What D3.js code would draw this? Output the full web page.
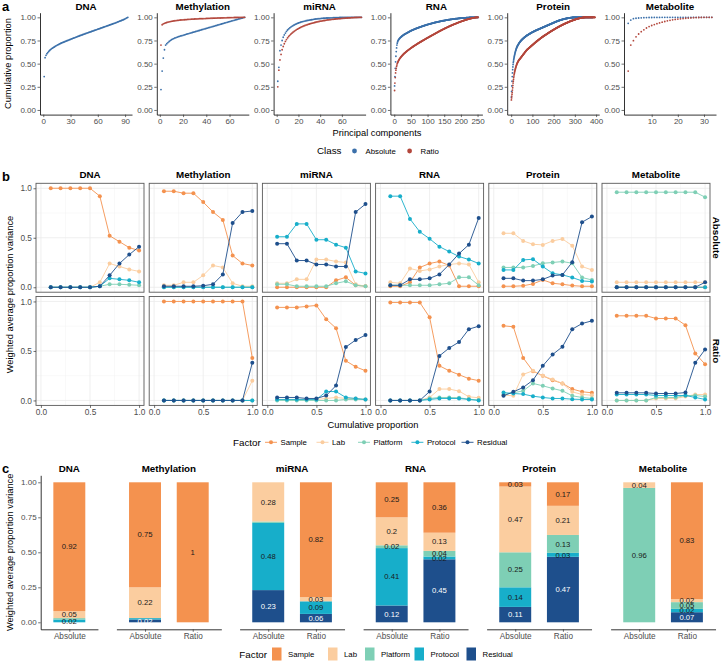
<!DOCTYPE html>
<html><head><meta charset="utf-8">
<script src="https://cdn.jsdelivr.net/npm/d3@7"></script>
<style>body{margin:0;background:#fff}</style>
</head><body><script>
// ---------- Panel a: cumulative proportion per principal component ----------
const omics=["DNA","Methylation","miRNA","RNA","Protein","Metabolite"];
const classes=["Absolute","Ratio"];
const dnaAbs=[.360,.565,.590,.607,.620,.632,.643,.652,.660,.667,.674,.680,.686,.692,.698,.703,.708,.713,.718,.723,.727,.731,.735,.739,.743,.747,.751,.755,.759,.763,.767,.771,.775,.779,.782,.786,.790,.794,.797,.801,.805,.808,.812,.816,.819,.823,.826,.830,.833,.837,.840,.844,.847,.851,.854,.858,.861,.865,.868,.872,.875,.879,.882,.886,.889,.893,.896,.900,.903,.907,.910,.914,.917,.921,.924,.928,.931,.935,.938,.942,.946,.950,.954,.958,.962,.966,.970,.974,.979,.984,.989,.995,1];
const methAbs=[.220,.420,.560,.650,.700,.715,.728,.739,.749,.758,.765,.771,.777,.782,.787,.791,.795,.799,.802,.806,.810,.814,.818,.822,.825,.829,.833,.836,.840,.844,.847,.851,.855,.858,.862,.866,.869,.873,.877,.880,.884,.888,.891,.895,.899,.902,.906,.910,.913,.917,.921,.924,.928,.932,.935,.939,.943,.946,.950,.954,.957,.961,.965,.968,.972,.975,.979,.983,.986,.990,.993,.997,1];
const methRat=[.700,.920,.930,.935,.940,.944,.948,.951,.954,.957,.959,.961,.963,.965,.967,.968,.970,.971,.972,.973,.974,.975,.976,.977,.978,.979,.980,.981,.981,.982,.983,.983,.984,.985,.985,.986,.986,.987,.987,.988,.988,.989,.989,.990,.990,.991,.991,.992,.992,.993,.993,.993,.994,.994,.995,.995,.995,.996,.996,.996,.997,.997,.997,.998,.998,.998,.999,.999,.999,.999,1,1,1];
const mirnaAbs=[.310,.460,.640,.700,.750,.785,.810,.830,.848,.863,.875,.886,.895,.903,.910,.917,.923,.929,.934,.939,.943,.947,.951,.954,.957,.960,.963,.966,.968,.970,.972,.974,.976,.978,.980,.982,.983,.985,.986,.987,.988,.989,.990,.991,.992,.993,.993,.994,.994,.995,.995,.996,.996,.996,.997,.997,.997,.998,.998,.998,.998,.999,.999,.999,.999,.999,.999,1,1,1,1,1,1,1,1,1,1,1];
const mirnaRat=[.250,.430,.540,.600,.650,.685,.715,.740,.760,.778,.793,.806,.818,.829,.839,.848,.857,.865,.872,.879,.885,.891,.897,.902,.907,.912,.916,.920,.924,.928,.932,.935,.938,.941,.944,.947,.950,.953,.955,.958,.960,.962,.964,.966,.968,.970,.972,.973,.975,.976,.978,.979,.980,.982,.983,.984,.985,.986,.987,.988,.989,.990,.991,.992,.993,.994,.994,.995,.996,.996,.997,.998,.998,.999,.999,1,1,1];
const rnaAbs=[.26,.36,.45,.52,.58,.63,.67,.70,.72,.735,.745,.752,.758,.763,.768,.772,.776,.780,.784,.787,
.790,.793,.796,.799,.802,.805,.807,.810,.812,.815,
.817,.819,.821,.823,.825,.827,.829,.831,.833,.835,.837,.839,.841,.843,.845,.847,.849,.851,.853,.855,
.857,.858,.860,.862,.863,.865,.866,.868,.869,.871,.872,.874,.875,.877,.878,.880,.881,.882,.884,.885,
.886,.888,.889,.890,.892,.893,.894,.896,.897,.898,.899,.901,.902,.903,.904,.906,.907,.908,.909,.910,
.912,.913,.914,.915,.916,.917,.918,.920,.921,.922,.923,.924,.925,.926,.927,.928,.929,.930,.931,.932,
.933,.934,.935,.936,.937,.938,.939,.940,.941,.942,.943,.944,.944,.945,.946,.947,.948,.949,.950,.950,
.951,.952,.953,.954,.954,.955,.956,.957,.957,.958,.959,.960,.960,.961,.962,.963,.963,.964,.965,.965,
.966,.967,.967,.968,.969,.969,.970,.971,.971,.972,.972,.973,.974,.974,.975,.975,.976,.977,.977,.978,
.978,.979,.979,.980,.980,.981,.981,.982,.982,.983,.983,.984,.984,.985,.985,.986,.986,.986,.987,.987,
.988,.988,.988,.989,.989,.990,.990,.990,.991,.991,.991,.992,.992,.992,.993,.993,.993,.994,.994,.994,
.994,.995,.995,.995,.995,.996,.996,.996,.996,.997,.997,.997,.997,.997,.998,.998,.998,.998,.998,.998,
.999,.999,.999,.999,.999,.999,.999,.999,1,1,1,1,1,1,1,1,1,1,1,1,1,1];
const rnaRat=[.21,.29,.35,.40,.43,.45,.47,.485,.50,.51,
.518,.526,.533,.540,.546,.552,.557,.562,.567,.572,.576,.580,.584,.588,.592,.596,.600,.603,.607,.610,
.613,.617,.620,.623,.626,.629,.632,.635,.638,.641,.644,.646,.649,.652,.655,.657,.660,.663,.665,.668,
.670,.673,.675,.678,.680,.683,.685,.688,.690,.692,.695,.697,.699,.702,.704,.706,.709,.711,.713,.715,
.718,.720,.722,.724,.726,.729,.731,.733,.735,.737,.739,.742,.744,.746,.748,.750,.752,.754,.756,.758,
.760,.763,.765,.767,.769,.771,.773,.775,.777,.779,.781,.783,.785,.787,.789,.791,.793,.795,.797,.799,
.801,.803,.805,.807,.809,.811,.813,.815,.817,.819,.821,.823,.825,.827,.829,.831,.833,.835,.837,.839,
.841,.843,.845,.847,.849,.851,.853,.855,.857,.858,.860,.862,.864,.866,.868,.870,.871,.873,.875,.877,
.879,.880,.882,.884,.886,.887,.889,.891,.892,.894,.896,.897,.899,.901,.902,.904,.906,.907,.909,.910,
.912,.914,.915,.917,.918,.920,.921,.923,.924,.926,.927,.929,.930,.932,.933,.935,.936,.938,.939,.941,
.942,.943,.945,.946,.948,.949,.950,.952,.953,.954,.956,.957,.958,.960,.961,.962,.963,.965,.966,.967,
.968,.969,.971,.972,.973,.974,.975,.976,.977,.978,.979,.980,.981,.982,.983,.984,.985,.986,.987,.988,
.989,.990,.990,.991,.992,.993,.994,.994,.995,.996,.996,.997,.997,.998,.998,.999,.999,.999,1,1,1,1];
const protAbs=[.140,.200,.260,.310,.360,.400,.435,.465,.490,.510,.527,.542,.556,.569,.581,.592,.602,.612,.621,.630,
.638,.646,.653,.660,.666,.672,.678,.683,.688,.693,.697,.701,.705,.709,.713,.717,.720,.724,.727,.730,
.733,.736,.739,.742,.745,.748,.750,.753,.755,.758,.760,.762,.765,.767,.769,.771,.773,.775,.777,.779,
.781,.783,.785,.787,.789,.790,.792,.794,.796,.797,.799,.801,.802,.804,.805,.807,.808,.810,.811,.813,
.814,.816,.817,.819,.820,.821,.823,.824,.825,.827,.828,.829,.831,.832,.833,.835,.836,.837,.838,.840,
.841,.842,.843,.844,.846,.847,.848,.849,.850,.851,.852,.853,.855,.856,.857,.858,.859,.860,.861,.862,
.863,.864,.865,.866,.867,.868,.869,.870,.871,.872,.873,.874,.875,.876,.877,.878,.879,.880,.881,.882,
.883,.884,.885,.886,.887,.888,.889,.890,.891,.892,.893,.894,.895,.896,.897,.898,.899,.900,.901,.902,
.903,.904,.905,.906,.907,.908,.909,.910,.911,.912,.913,.914,.915,.916,.917,.918,.919,.920,.921,.922,
.923,.924,.925,.926,.927,.928,.929,.930,.931,.932,.933,.934,.935,.936,.937,.938,.939,.940,.941,.942,
.943,.944,.945,.946,.947,.948,.949,.950,.951,.952,.953,.954,.955,.956,.956,.957,.958,.959,.960,.961,
.962,.963,.963,.964,.965,.966,.967,.967,.968,.969,.970,.970,.971,.972,.973,.973,.974,.975,.975,.976,
.977,.977,.978,.979,.979,.980,.981,.981,.982,.982,.983,.984,.984,.985,.985,.986,.986,.987,.987,.988,
.988,.989,.989,.990,.990,.990,.991,.991,.992,.992,.992,.993,.993,.994,.994,.994,.995,.995,.995,.996,
.996,.996,.996,.997,.997,.997,.997,.998,.998,.998,.998,.998,.999,.999,.999,.999,.999,.999,.999,1,
1,1,1,1,1,1,1,1,1,1,1,1,1,1,1,1,1,1,1,1,1,1,1,1,1,1,1,1,1,1,1,1,1,1,1,1,1,1,1,1,
1,1,1,1,1,1,1,1,1,1,1,1,1,1,1,1,1,1,1,1,1,1,1,1,1,1,1,1,1,1,1,1,1,1,1,1,1,1,1,1,
1,1,1,1,1];
const protRat=[.108,.130,.150,.170,.190,.215,.240,.265,.290,.310,.330,.350,.366,.381,.395,.407,.418,.428,.437,.446,
.454,.462,.470,.477,.484,.490,.496,.502,.507,.512,.517,.521,.525,.529,.533,.537,.540,.543,.546,.549,
.551,.554,.557,.560,.563,.566,.569,.572,.575,.578,.581,.584,.587,.590,.593,.596,.599,.602,.605,.608,
.611,.614,.617,.620,.623,.626,.629,.632,.635,.638,.641,.644,.647,.649,.651,.653,.655,.657,.659,.661,
.663,.665,.667,.669,.671,.673,.675,.677,.679,.681,.683,.685,.687,.689,.691,.693,.695,.697,.699,.701,
.703,.705,.707,.709,.711,.713,.715,.717,.719,.721,.723,.725,.727,.729,.731,.733,.735,.737,.739,.740,
.742,.744,.746,.748,.750,.751,.753,.755,.757,.759,.760,.762,.764,.766,.768,.769,.771,.773,.775,.776,
.778,.780,.781,.783,.785,.786,.788,.790,.791,.793,.794,.796,.798,.799,.801,.802,.804,.805,.807,.808,
.810,.811,.813,.814,.816,.817,.819,.820,.822,.823,.825,.826,.828,.829,.831,.832,.834,.835,.837,.838,
.840,.841,.843,.844,.846,.847,.849,.850,.851,.853,.854,.856,.857,.858,.860,.861,.863,.864,.865,.867,
.868,.869,.871,.872,.873,.875,.876,.877,.879,.880,.881,.883,.884,.885,.887,.888,.889,.891,.892,.893,
.894,.896,.897,.898,.899,.901,.902,.903,.904,.905,.907,.908,.909,.910,.911,.913,.914,.915,.916,.917,
.918,.920,.921,.922,.923,.924,.925,.926,.928,.929,.930,.931,.932,.933,.934,.935,.936,.937,.938,.939,
.940,.941,.942,.943,.944,.945,.946,.947,.948,.949,.950,.951,.952,.953,.954,.955,.956,.957,.958,.959,
.960,.961,.961,.962,.963,.964,.965,.966,.967,.967,.968,.969,.970,.971,.971,.972,.973,.974,.975,.975,
.976,.977,.978,.978,.979,.980,.981,.981,.982,.983,.983,.984,.985,.985,.986,.987,.987,.988,.989,.989,
.990,.990,.991,.991,.992,.992,.993,.993,.994,.994,.995,.995,.996,.996,.996,.997,.997,.997,.998,.998,
.998,.999,.999,.999,.999,.999,1,1,1,1,1,1,1,1,1,1,1,1,1,1,1,1,1,1,1,1,1,1,1,1,
1,1,1,1,1,1,1,1,1,1,1,1,1,1,1,1,1,1,1,1,1,1,1,1,1];
const metaAbs=[.935,.970,.985,.990,.993,.995,.996,.997,.998,.998,.999,.999,.999,1,1,1,1,1,1,1,1,1,1,1,1,1,1,1,1,1,1,1,1];
const metaRat=[.42,.70,.748,.79,.82,.845,.865,.885,.90,.912,.922,.931,.94,.948,.955,.962,.968,.973,.977,.981,.984,.987,.99,.992,.994,.996,.997,.998,.999,1,1,1,1];
const aXTicks=[[0,30,60,90],[0,20,40,60],[0,20,40,60],[0,50,100,150,200,250],[0,100,200,300,400],[10,20,30]];
const aYTicks=[0,0.25,0.5,0.75,1];

// ---------- Panel b: weighted average proportion variance vs cumulative proportion ----------
const factors=["Sample","Lab","Platform","Protocol","Residual"];
const bX=[0.1,0.2,0.3,0.4,0.5,0.6,0.7,0.8,0.9,1.0];
const bTicks=[0,0.5,1];
// rows: Sample, Lab, Platform, Protocol, Residual
const bDNAAbs=[[1,1,1,1,1,.92,.52,.46,.40,.37],[0,0,0,0,0,.05,.24,.21,.18,.16],[0,0,0,0,0,.01,.03,.03,.025,.02],[0,0,0,0,0,.01,.09,.08,.07,.05],[0,0,0,0,0,.01,.12,.24,.33,.41]];
const bDNARat=[[],[],[],[],[]];
const bMethAbs=[[.97,.97,.95,.95,.86,.76,.68,.32,.24,.22],[.02,.02,.05,.05,.12,.22,.20,.04,.01,.01],[0,0,0,0,0,0,0,0,0,0],[0,0,0,0,0,0,0,0,0,0],[.01,.01,.01,.01,.015,.03,.13,.65,.76,.77]];
const bMethRat=[[1,1,1,1,1,1,1,1,1,.43],[0,0,0,0,0,0,0,0,0,.2],[0,0,0,0,0,0,0,0,0,0],[0,0,0,0,0,0,0,0,0,0],[0,0,0,0,0,0,0,0,0,.38]];
const bMirnaAbs=[[0,0,0,0,0,0,.07,.10,.02,.01],[.04,.04,.08,.08,.28,.28,.26,.25,.03,.01],[.03,.03,.01,.01,.01,.01,.04,.06,.02,.01],[.51,.51,.64,.64,.48,.48,.43,.40,.16,.14],[.44,.44,.27,.27,.23,.23,.21,.21,.76,.84]];
const bMirnaRat=[[.94,.94,.94,.95,.96,.82,.73,.40,.34,.30],[.01,.01,.01,.01,.01,.02,.03,.02,.02,.01],[0,0,0,0,0,0,0,.01,.01,.01],[.01,.01,.01,.01,.01,.09,.09,.03,.02,.01],[.03,.03,.03,.02,.02,.05,.15,.54,.61,.66]];
const bRnaAbs=[[.01,.01,.05,.20,.24,.26,.22,.01,.01,.01],[.05,.04,.19,.165,.18,.21,.23,.24,.23,.05],[.02,.02,.02,.02,.02,.03,.04,.10,.10,.02],[.92,.92,.69,.56,.49,.41,.36,.31,.28,.24],[.02,.02,.08,.08,.09,.13,.23,.34,.43,.70]];
const bRnaRat=[[.99,.99,.99,.99,.84,.35,.30,.26,.22,.20],[0,0,0,0,.03,.115,.115,.094,.037,.027],[0,0,0,0,.02,.03,.03,.027,.013,.005],[0,0,0,0,.01,.02,.02,.02,.01,0],[0,0,0,0,.09,.45,.53,.59,.72,.75]];
const bProtAbs=[[.01,.01,.015,.034,.074,.04,.03,.017,.01,.01],[.545,.545,.468,.434,.428,.468,.488,.42,.209,.175],[.20,.20,.20,.215,.242,.25,.26,.242,.098,.074],[.175,.175,.276,.283,.209,.141,.125,.098,.064,.057],[.09,.09,.067,.067,.08,.118,.125,.253,.657,.714]];
const bProtRat=[[.754,.744,.43,.296,.249,.205,.172,.115,.088,.077],[.053,.047,.263,.30,.249,.212,.172,.087,.06,.053],[.06,.077,.097,.172,.148,.121,.097,.047,.03,.02],[.08,.07,.064,.043,.03,.02,.02,.013,.01,.01],[.047,.087,.131,.205,.35,.464,.542,.72,.777,.804]];
const bMetaAbs=[[0,0,0,0,0,0,0,0,0,0],[.05,.05,.05,.05,.05,.05,.05,.05,.05,.05],[.96,.96,.96,.96,.96,.96,.96,.96,.96,.91],[0,0,0,0,0,0,0,0,0,0],[0,0,0,0,0,0,0,0,0,.05]];
const bMetaRat=[[.855,.855,.855,.855,.828,.828,.828,.76,.474,.366],[0,0,0,0,.02,.02,.02,.04,.06,.06],[0,0,0,0,.03,.03,.03,.05,.05,.04],[.06,.06,.06,.06,.05,.05,.05,.05,.03,.01],[.077,.077,.077,.077,.07,.07,.07,.08,.38,.515]];

// ---------- Panel c: stacked bars (Sample, Lab, Platform, Protocol, Residual) ----------
const cClasses=[["Absolute"],["Absolute","Ratio"],["Absolute","Ratio"],["Absolute","Ratio"],["Absolute","Ratio"],["Absolute","Ratio"]];
const cDNA=[[.92,.05,.01,.02,0]];
const cMeth=[[.75,.22,0,.01,.02],[1,0,0,0,0]];
const cMirna=[[0,.28,.01,.48,.23],[.82,.03,0,.09,.06]];
const cRna=[[.25,.2,.02,.41,.12],[.36,.13,.04,.02,.45]];
const cProt=[[.03,.47,.25,.14,.11],[.168,.208,.128,.028,.468]];
const cMeta=[[0,.04,.96,0,0],[.834,.022,.048,.024,.072]];
const cYTicks=[0,0.25,0.5,0.75,1];

// ---------- drawing ----------
const FONT='"Liberation Sans", Arial, Helvetica, sans-serif';
const classCol={Absolute:"#3B70AA",Ratio:"#B3473C"};
const facCol={Sample:"#F4924F",Lab:"#FBCD9F",Platform:"#7ECFB5",Protocol:"#17AECA",Residual:"#1E4F8C"};
const W=723,H=661;
const svg=d3.select("body").append("svg").attr("width",W).attr("height",H).style("font-family",FONT);
svg.append("rect").attr("width",W).attr("height",H).attr("fill","#fff");

function T(x,y,s,o={}){
  const t=svg.append("text").attr("x",x).attr("y",y).text(s)
    .attr("font-size",o.size||9).attr("fill",o.fill||"#000")
    .attr("text-anchor",o.anchor||"start").attr("font-weight",o.bold?"bold":"normal");
  if(o.rot!==undefined) t.attr("transform",`rotate(${o.rot},${x},${y})`);
  return t;
}
function styleAxis(g,fs,keepDomain){
  g.attr("font-family",FONT).attr("font-size",fs);
  if(!keepDomain) g.select(".domain").remove();
  else g.select(".domain").attr("stroke","#000").attr("stroke-width",0.8);
  g.selectAll(".tick line").attr("stroke","#333").attr("stroke-width",0.7);
  g.selectAll(".tick text").attr("fill","#4D4D4D");
}

// Panel a
T(2,11,"a",{size:13,bold:true});
const aY=d3.scaleLinear().domain([-0.05,1.05]).range([114.6,12.7]);
const aAbs=[dnaAbs,methAbs,mirnaAbs,rnaAbs,protAbs,metaAbs];
const aRat=[null,methRat,mirnaRat,rnaRat,protRat,metaRat];
omics.forEach((o,i)=>{
  const left=40+i*116.8, w=92;
  const n=Math.max(aAbs[i].length, aRat[i]?aRat[i].length:0);
  const pad=0.05*(n-1);
  const x=d3.scaleLinear().domain([1-pad,n+pad]).range([left,left+w]);
  const gy=svg.append("g").attr("transform",`translate(${left},0)`)
    .call(d3.axisLeft(aY).tickValues(aYTicks).tickFormat(d3.format(".2f")).tickSize(2.5).tickPadding(1.5).tickSizeOuter(0));
  styleAxis(gy,8,true);
  const gx=svg.append("g").attr("transform",`translate(0,114.6)`)
    .call(d3.axisBottom(x).tickValues(aXTicks[i]).tickFormat(d3.format("d")).tickSize(2.5).tickPadding(1.5).tickSizeOuter(0));
  styleAxis(gx,8,true);
  T(left+w/2,9.5,o,{size:9.8,bold:true,anchor:"middle"});
  [["Absolute",aAbs[i]],["Ratio",aRat[i]]].forEach(([c,arr])=>{
    if(!arr) return;
    svg.append("g").selectAll("circle").data(arr).join("circle")
      .attr("cx",(d,k)=>x(k+1)).attr("cy",d=>aY(d)).attr("r",0.9).attr("fill",classCol[c]);
  });
});
T(11,63.6,"Cumulative proportion",{size:9.3,anchor:"middle",rot:-90});
T(377,136,"Principal components",{size:9.3,anchor:"middle"});
// legend a
T(317,154,"Class",{size:9.8});
classes.forEach((c,k)=>{
  const cx=[354.5,409.6][k];
  svg.append("circle").attr("cx",cx).attr("cy",151).attr("r",2.4).attr("fill",classCol[c]);
  T(cx+11,154,c,{size:7.8});
});

// Panel b
T(2,181,"b",{size:13,bold:true});
const bW=108, bH=108.9, bTops=[183.3,296.5];
const bx=d3.scaleLinear().domain([-0.05,1.05]).range([0,bW]);
const by=d3.scaleLinear().domain([-0.05,1.05]).range([bH,0]);
const bAll={Absolute:[bDNAAbs,bMethAbs,bMirnaAbs,bRnaAbs,bProtAbs,bMetaAbs],Ratio:[bDNARat,bMethRat,bMirnaRat,bRnaRat,bProtRat,bMetaRat]};
const line=d3.line().defined(d=>d!=null);
classes.forEach((c,r)=>{
  omics.forEach((o,j)=>{
    const left=36+j*113.2, top=bTops[r];
    const g=svg.append("g").attr("transform",`translate(${left},${top})`);
    [0.25,0.75].forEach(v=>{
      g.append("line").attr("x1",0).attr("x2",bW).attr("y1",by(v)).attr("y2",by(v)).attr("stroke","#F3F3F3").attr("stroke-width",0.5);
      g.append("line").attr("y1",0).attr("y2",bH).attr("x1",bx(v)).attr("x2",bx(v)).attr("stroke","#F3F3F3").attr("stroke-width",0.5);
    });
    bTicks.forEach(v=>{
      g.append("line").attr("x1",0).attr("x2",bW).attr("y1",by(v)).attr("y2",by(v)).attr("stroke","#EBEBEB").attr("stroke-width",0.8);
      g.append("line").attr("y1",0).attr("y2",bH).attr("x1",bx(v)).attr("x2",bx(v)).attr("stroke","#EBEBEB").attr("stroke-width",0.8);
    });
    const data=bAll[c][j];
    factors.forEach((f,fi)=>{
      const vals=data[fi];
      if(!vals.length) return;
      const pts=vals.map((v,k)=>[bx(bX[k]),by(v)]);
      g.append("path").attr("d",line(pts)).attr("fill","none").attr("stroke",facCol[f]).attr("stroke-width",0.9);
      g.append("g").selectAll("circle").data(pts).join("circle")
        .attr("cx",d=>d[0]).attr("cy",d=>d[1]).attr("r",2).attr("fill",facCol[f]);
    });
    g.append("rect").attr("width",bW).attr("height",bH).attr("fill","none").attr("stroke","#5A5A5A").attr("stroke-width",0.9);
    if(j===0){
      const ga=g.append("g").call(d3.axisLeft(by).tickValues(bTicks).tickFormat(d3.format(".1f")).tickSize(2.5).tickPadding(1.5));
      styleAxis(ga,8.3,false);
    }
    if(r===1){
      const ga=g.append("g").attr("transform",`translate(0,${bH})`).call(d3.axisBottom(bx).tickValues(bTicks).tickFormat(d3.format(".1f")).tickSize(2.5).tickPadding(1.5));
      styleAxis(ga,8.3,false);
    }
    if(r===0) T(left+bW/2,177.6,o,{size:9.8,bold:true,anchor:"middle"});
  });
  T(716,bTops[r]+bH/2,c,{size:9.8,bold:true,anchor:"middle",rot:90}).attr("dy","0.35em");
});
T(13,294.5,"Weighted average proportion variance",{size:9.3,anchor:"middle",rot:-90});
T(373,427.5,"Cumulative proportion",{size:9.3,anchor:"middle"});
// legend b
T(233,445.5,"Factor",{size:9.8});
const bLegX=[271,322.5,364,417.4,467.5];
factors.forEach((f,k)=>{
  const cx=bLegX[k];
  svg.append("line").attr("x1",cx-6).attr("x2",cx+6).attr("y1",442.3).attr("y2",442.3).attr("stroke",facCol[f]).attr("stroke-width",0.9);
  svg.append("circle").attr("cx",cx).attr("cy",442.3).attr("r",2).attr("fill",facCol[f]);
  T(cx+9.5,445.2,f,{size:7.8});
});

// Panel c
T(2,473,"c",{size:13,bold:true});
const cy=d3.scaleLinear().domain([-0.05,1.05]).range([629.3,475.3]);
const cAll=[cDNA,cMeth,cMirna,cRna,cProt,cMeta];
const cLefts=[40.7,116.4,239.6,363.1,486.6,610.6];
const unit=47.7, barW=0.67;
const lab=v=>String(Math.round(v*100)/100);
omics.forEach((o,i)=>{
  const cats=cClasses[i];
  const left=cLefts[i];
  const x=d3.scaleLinear().domain([0.4,cats.length+0.6]).range([left,left+(cats.length+0.2)*unit]);
  const gx=svg.append("g").attr("transform",`translate(0,629.3)`)
    .call(d3.axisBottom(x).tickValues(cats.map((d,k)=>k+1)).tickFormat((d)=>cats[d-1]).tickSize(2.5).tickPadding(1.5).tickSizeOuter(0));
  styleAxis(gx,8.2,true);
  if(i===0){
    const gy=svg.append("g").attr("transform",`translate(${left},0)`)
      .call(d3.axisLeft(cy).tickValues(cYTicks).tickFormat(d3.format(".2f")).tickSize(2.5).tickPadding(1.5).tickSizeOuter(0));
    styleAxis(gy,8,true);
  }
  T((x.range()[0]+x.range()[1])/2,471.5,o,{size:9.8,bold:true,anchor:"middle"});
  cats.forEach((c,k)=>{
    const vals=cAll[i][k];
    const cx=x(k+1), bw=barW*unit;
    let cum=0;
    const segs=[];
    for(let fi=factors.length-1;fi>=0;fi--){
      const v=vals[fi];
      segs.push({f:factors[fi],v:v,y0:cum,y1:cum+v});
      cum+=v;
    }
    segs.forEach(s=>{
      if(s.v<=0) return;
      svg.append("rect").attr("x",cx-bw/2).attr("width",bw)
        .attr("y",cy(s.y1)).attr("height",cy(s.y0)-cy(s.y1)).attr("fill",facCol[s.f]);
    });
    segs.forEach(s=>{
      if(s.v<0.015) return;
      T(cx,(cy(s.y0)+cy(s.y1))/2,lab(s.v),{size:7.7,anchor:"middle",fill:s.f==="Residual"?"#fff":"#1a1a1a"}).attr("dy","0.35em");
    });
  });
});
T(13,552.3,"Weighted average proportion variance",{size:9.3,anchor:"middle",rot:-90});
// legend c
T(239.3,657.7,"Factor",{size:9.8});
const cLegX=[272,328,365,414.5,466.5];
factors.forEach((f,k)=>{
  svg.append("rect").attr("x",cLegX[k]).attr("y",647.5).attr("width",9.5).attr("height",13).attr("fill",facCol[f]);
  T(cLegX[k]+16,657.2,f,{size:7.8});
});
</script></body></html>
